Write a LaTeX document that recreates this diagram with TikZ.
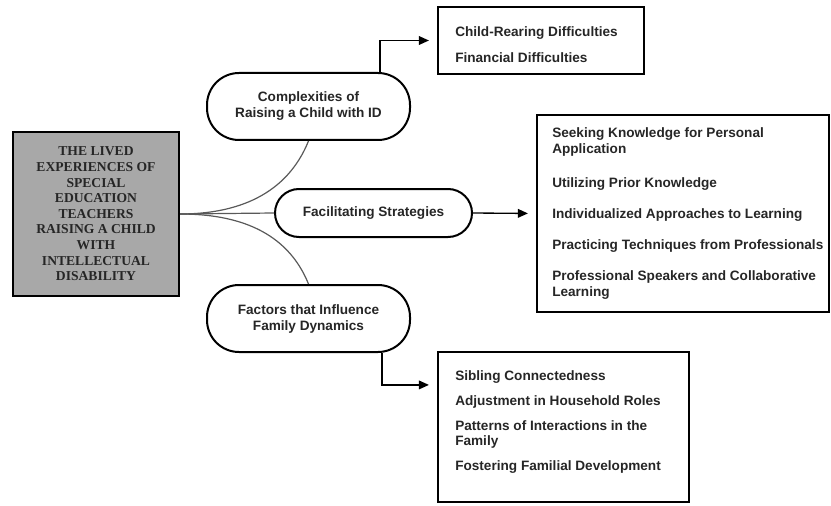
\documentclass[tikz,border=0pt]{standalone}
\usepackage{fontspec}
\setmainfont{Liberation Serif}
\setsansfont{Liberation Sans}
\usetikzlibrary{arrows.meta,calc}
\definecolor{boxgray}{RGB}{168,168,168}
\definecolor{ink}{RGB}{38,38,38}
\begin{document}
\begin{tikzpicture}[x=0.75pt,y=-0.75pt,
  box/.style={draw=black, line width=1.6pt, inner sep=0pt},
  stad/.style={draw=black, line width=1.5pt, fill=white, align=center, text=ink,
    font=\sffamily\bfseries\fontsize{10.2}{12}\selectfont},
  item/.style={anchor=base west, inner sep=0pt, text=ink,
    font=\sffamily\bfseries\fontsize{10.2}{12}\selectfont},
  link/.style={draw=black!65, line width=0.9pt},
  arr/.style={draw=black, line width=1pt, shorten >=6pt, -{Triangle[length=7.5pt,width=6.5pt]}}]
\useasboundingbox (0,0) rectangle (831,506);
% central box
\node[box, fill=boxgray, minimum width=124.5pt, minimum height=123pt, align=center, text=ink,
  font=\rmfamily\bfseries\fontsize{10.2}{11.7}\selectfont] (main) at (96,214)
  {THE LIVED\\EXPERIENCES OF\\SPECIAL\\EDUCATION\\TEACHERS\\RAISING A CHILD\\WITH\\INTELLECTUAL\\DISABILITY};
% theme stadiums
\node[stad, minimum width=152.25pt, minimum height=50.25pt, rounded corners=24pt] (t1) at (308.5,106.5)
  {Complexities of\\Raising a Child with ID};
\node[stad, minimum width=147.75pt, minimum height=36pt, rounded corners=18pt] (t2) at (373.5,213)
  {Facilitating Strategies};
\node[stad, minimum width=152.25pt, minimum height=50.25pt, rounded corners=24pt] (t3) at (308.5,318.5)
  {Factors that Influence\\Family Dynamics};
% subtheme boxes
\node[box, minimum width=154.5pt, minimum height=50.25pt] (b1) at (541,40.5) {};
\node[box, minimum width=219pt, minimum height=147.75pt] (b2) at (683,213.5) {};
\node[box, minimum width=188.25pt, minimum height=112.5pt] (b3) at (563.5,427) {};
% items
\node[item] (i11) at (455,37) {Child-Rearing Difficulties};
\node[item] (i12) at (455,63) {Financial Difficulties};
\node[item] (i21) at (552,138) {Seeking Knowledge for Personal};
\node[item] (i22) at (552,154) {Application};
\node[item] (i23) at (552,187) {Utilizing Prior Knowledge};
\node[item] (i24) at (552,218) {Individualized Approaches to Learning};
\node[item] (i25) at (552,249) {Practicing Techniques from Professionals};
\node[item] (i26) at (552,280) {Professional Speakers and Collaborative};
\node[item] (i27) at (552,296) {Learning};
\node[item] (i31) at (455,380) {Sibling Connectedness};
\node[item] (i32) at (455,405) {Adjustment in Household Roles};
\node[item] (i33) at (455,430) {Patterns of Interactions in the};
\node[item] (i34) at (455,445) {Family};
\node[item] (i35) at (455,470) {Fostering Familial Development};
% links
\draw[link] (main.east) to[out=0,in=-112] (t1.south);
\draw[link] (main.east) -- (t2.west);
\draw[link] (main.east) to[out=0,in=112] (t3.north);
% arrows
\draw[arr] ($(t1.north)+(71.5,0)$) |- (b1.west);
\draw[arr] (t2.east) -- (b2.west);
\draw[arr] ($(t3.south)+(73.5,0)$) |- ($(b3.north west)+(0,34)$);
\end{tikzpicture}
\end{document}
